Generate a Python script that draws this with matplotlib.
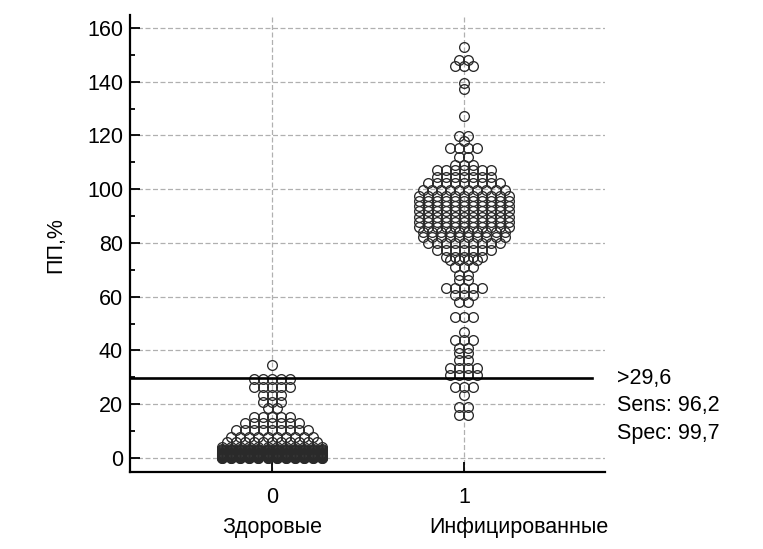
#!/usr/bin/env python3
"""Dot plot of ПП,% for healthy vs infected animals with the ROC cut-off line."""

import matplotlib
matplotlib.use("Agg")
import matplotlib.pyplot as plt
from matplotlib.ticker import MultipleLocator
from matplotlib.transforms import blended_transform_factory

plt.rcParams["font.family"] = ["Liberation Sans", "DejaVu Sans"]

GROUP_POS = [0, 1]
GROUP_TICKS = ["0", "1"]
GROUP_LABELS = ["Здоровые", "Инфицированные"]

# Each level is one row of dots; counts are the number of dots in that row.
HEALTHY_LEVELS = [34.6, 29.5, 26.5, 23.4, 21.0, 18.6, 15.4, 13.0, 10.4, 7.9,
                  6.0, 4.2, 3.2, 2.9, 2.6, 2.3, 2.0, 1.8, 1.6, 1.4, 1.2,
                  1.0, 0.8, 0.6, 0.4, 0.2, 0.1, 0.0]
HEALTHY_COUNTS = [1, 5, 5, 3, 3, 2, 5, 7, 9, 10,
                  11, 12, 12, 12, 12, 12, 12, 12, 12, 12, 12,
                  12, 12, 12, 12, 12, 12, 12]

INFECTED_LEVELS = [153.0, 148.1, 146.0, 139.4, 137.2, 127.3, 119.6, 118.0,
                   115.2, 112.1, 109.0, 107.0, 104.7, 102.2, 99.8, 97.6,
                   95.6, 93.6, 91.7, 89.8, 87.9, 86.0, 84.2, 82.3, 80.0,
                   77.4, 74.9, 73.7, 71.2, 68.1, 66.2, 63.4, 60.7, 58.2,
                   52.6, 47.0, 43.9, 40.8, 38.9, 36.5, 33.4, 30.9, 26.5,
                   23.4, 19.1, 16.0]
INFECTED_COUNTS = [1, 2, 3, 1, 1, 1, 2, 1,
                   4, 2, 3, 7, 7, 9, 10, 11,
                   11, 11, 11, 11, 11, 11, 10, 10, 9,
                   7, 5, 4, 3, 2, 2, 5, 3, 2,
                   3, 1, 3, 2, 2, 2, 4, 4, 3,
                   1, 2, 2]

CUTOFF = 29.6
SENS = 96.2
SPEC = 99.7

DOT_STEP = 0.047  # horizontal distance between neighbouring dots, data units
DOT_EDGE = "#2a2a2a"
GRID_COLOR = "#b0b0b0"
FONT_SIZE = 15.5


def _fmt(v: float) -> str:
    return f"{v:.1f}".replace(".", ",")


def _dot_rows(center, levels, counts):
    xs, ys = [], []
    for level, n in zip(levels, counts):
        for i in range(n):
            xs.append(center + (i - (n - 1) / 2) * DOT_STEP)
            ys.append(level)
    return xs, ys


def main() -> None:
    fig = plt.figure(figsize=(7.63, 5.49), dpi=100, facecolor="white")
    ax = fig.add_axes([0.1704, 0.1403, 0.6225, 0.8324])

    ax.set_xlim(-0.74, 1.735)
    ax.set_ylim(-5.2, 164.8)

    # dashed reference grid
    for y in range(0, 161, 20):
        ax.axhline(y, color=GRID_COLOR, lw=0.9, ls=(0, (4, 2)), zorder=1)
    for x in GROUP_POS:
        ax.axvline(x, color=GRID_COLOR, lw=0.9, ls=(0, (4, 2)), zorder=1)

    for center, levels, counts in (
        (GROUP_POS[0], HEALTHY_LEVELS, HEALTHY_COUNTS),
        (GROUP_POS[1], INFECTED_LEVELS, INFECTED_COUNTS),
    ):
        xs, ys = _dot_rows(center, levels, counts)
        ax.plot(xs, ys, ls="none", marker="o", ms=7.0, mfc="none",
                mec=DOT_EDGE, mew=0.95, zorder=3)

    ax.plot([-0.74, 1.665], [CUTOFF, CUTOFF], color="black", lw=1.9,
            zorder=4, clip_on=False)

    trans = blended_transform_factory(ax.transAxes, ax.transData)
    ax.text(1.025, CUTOFF, ">" + _fmt(CUTOFF), transform=trans,
            fontsize=FONT_SIZE, va="center", ha="left")
    ax.text(1.025, CUTOFF - 10.2, "Sens: " + _fmt(SENS), transform=trans,
            fontsize=FONT_SIZE, va="center", ha="left")
    ax.text(1.025, CUTOFF - 20.4, "Spec: " + _fmt(SPEC), transform=trans,
            fontsize=FONT_SIZE, va="center", ha="left")

    for side in ("top", "right"):
        ax.spines[side].set_visible(False)
    for side in ("left", "bottom"):
        ax.spines[side].set_linewidth(1.6)

    ax.yaxis.set_major_locator(MultipleLocator(20))
    ax.yaxis.set_minor_locator(MultipleLocator(10))
    ax.set_xticks(GROUP_POS)
    ax.set_xticklabels(GROUP_TICKS)
    ax.tick_params(axis="y", which="major", direction="in", length=7,
                   width=1.3, labelsize=FONT_SIZE, pad=5)
    ax.tick_params(axis="y", which="minor", direction="in", length=3.5,
                   width=1.3)
    ax.tick_params(axis="x", direction="in", length=7, width=1.3,
                   labelsize=FONT_SIZE, pad=11)

    ax.set_ylabel("ПП,%", fontsize=FONT_SIZE)
    ax.yaxis.set_label_coords(-0.135, 0.497)

    xtrans = blended_transform_factory(ax.transData, ax.transAxes)
    ax.text(GROUP_POS[0], -0.1225, GROUP_LABELS[0], transform=xtrans,
            fontsize=FONT_SIZE, ha="center", va="center")
    ax.text(GROUP_POS[1] + 0.286, -0.1225, GROUP_LABELS[1], transform=xtrans,
            fontsize=FONT_SIZE, ha="center", va="center")

    fig.savefig("out.png", dpi=100, facecolor="white")
    plt.close(fig)


if __name__ == "__main__":
    main()
